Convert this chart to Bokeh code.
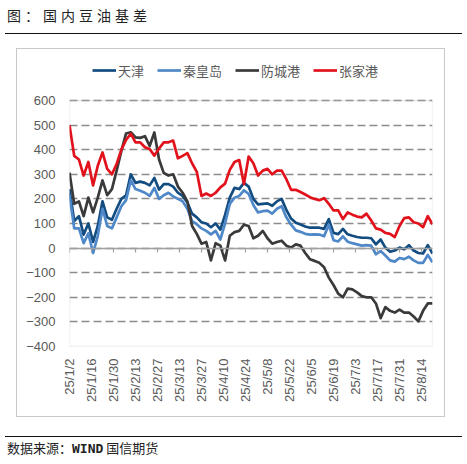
import math
import pandas as pd
from bokeh.plotting import figure
from bokeh.models import (Range1d, FixedTicker, DatetimeAxis, Legend, LegendItem,
                          Div, Spacer, CustomJSTickFormatter, ColumnDataSource,
                          BoxAnnotation)
from bokeh.layouts import column
from bokeh.embed import file_html
from bokeh.resources import INLINE

# ---------------- data ----------------
start_date = "2025-01-02"
end_day = 231
day_offsets = list(range(0, 232, 3))  # days since 2025-01-02

tianjin = [
    240, 110, 130, 55, 100, 25, 90, 190, 125, 115,
    160, 200, 215, 300, 265, 270, 265, 255, 285, 238,
    260, 260, 250, 225, 212, 185, 140, 125, 105, 100,
    85, 100, 75, 135, 205, 245, 240, 265, 250, 200,
    178, 180, 182, 172, 190, 200, 155, 120, 103, 96,
    88, 83, 83, 83, 78, 118, 62, 57, 78, 56,
    50, 45, 42, 42, 40, 15, 35, 2, -15, -10,
    2, -5, 12, -10, -20, -22, 12, -22,
]
qinhuangdao = [
    215, 80, 80, 20, 60, -20, 50, 160, 90, 80,
    125, 170, 195, 275, 240, 233, 225, 212, 245, 200,
    215, 225, 210, 200, 190, 160, 110, 97, 80, 70,
    56, 70, 35, 100, 180, 205, 212, 235, 220, 175,
    145, 150, 152, 140, 160, 170, 125, 95, 72, 66,
    58, 55, 56, 55, 48, 95, 32, 27, 48, 26,
    20, 15, 10, 12, 10, -25, -12, -30, -50, -55,
    -40, -45, -35, -50, -60, -60, -28, -58,
]
fangchenggang = [
    307, 180, 190, 130, 205, 145, 205, 275, 215, 240,
    315, 395, 466, 471, 450, 448, 455, 415, 470, 360,
    305, 295, 300, 250, 225, 190, 90, 58, 18, 25,
    -50, 20, 10, -50, 50, 65, 70, 95, 90, 40,
    50, 70, 40, 18, 25, 30, 10, 2, 15, 10,
    -20, -45, -52, -60, -78, -120, -150, -185, -200, -165,
    -168, -180, -195, -200, -200, -225, -285, -240, -255, -262,
    -250, -262, -262, -278, -298, -255, -225, -225,
]
zhangjiagang = [
    500, 375, 360, 295, 350, 255, 335, 389, 322, 300,
    342, 400, 440, 465, 430, 430, 410, 403, 376, 405,
    430, 430, 437, 365, 375, 386, 345, 310, 212, 222,
    212, 225, 247, 262, 318, 350, 358, 260, 372, 345,
    295, 315, 322, 300, 315, 315, 280, 237, 237, 228,
    218, 207, 200, 195, 203, 180, 153, 153, 118, 145,
    136, 128, 125, 140, 112, 80, 75, 62, 58, 45,
    90, 122, 125, 105, 100, 85, 130, 97,
]

series_names = ["天津", "秦皇岛", "防城港", "张家港"]
series_colors = ["#134C80", "#4F88C8", "#3A3A3A", "#E2121C"]

x_tick_labels = ["25/1/2", "25/1/16", "25/1/30", "25/2/13", "25/2/27", "25/3/13",
                 "25/3/27", "25/4/10", "25/4/24", "25/5/8", "25/5/22", "25/6/5",
                 "25/6/19", "25/7/3", "25/7/17", "25/7/31", "25/8/14"]
y_ticks = [-400, -300, -200, -100, 0, 100, 200, 300, 400, 500, 600]
y_tick_labels = ["−400", "−300", "−200", "−100", "0", "100", "200", "300", "400", "500", "600"]
y_min, y_max = -400, 600

title_text = "图：国内豆油基差"
source_text_cn1 = "数据来源："
source_text_en = "WIND"
source_text_cn2 = "国信期货"

# ---------------- build ----------------
t0 = pd.Timestamp(start_date)
dates = [t0 + pd.Timedelta(days=d) for d in day_offsets]
src = ColumnDataSource(dict(date=dates, tj=tianjin, qhd=qinhuangdao,
                            fcg=fangchenggang, zjg=zhangjiagang))

def to_ms(ts):
    return (ts - pd.Timestamp("1970-01-01")) / pd.Timedelta(milliseconds=1)

tick_dates = [pd.to_datetime("20" + s, format="%Y/%m/%d") for s in x_tick_labels]
tick_ms = [float(to_ms(t)) for t in tick_dates]

x_start = to_ms(t0)
x_end = to_ms(t0 + pd.Timedelta(days=end_day))

FONT = "Liberation Sans"
GREY_TXT = "#595959"

# frame: 290 px tall; plot area (-400..600) occupies its lower 246 px, legend sits above
FRAME_H = 290
PLOT_H = 246
y_top = y_min + FRAME_H * (y_max - y_min) / PLOT_H

# figure spans page x 8..453, y 40..425; the grey chart box is drawn 8px inside it
p = figure(width=445, height=385, x_axis_type="datetime",
           output_backend="svg", toolbar_location=None,
           x_range=Range1d(x_start, x_end), y_range=Range1d(y_min, y_top),
           min_border_left=61, min_border_right=21,
           min_border_top=16, min_border_bottom=79,
           margin=(0, 0, 0, 8),
           styles={"background-color": "#ffffff",
                   "box-shadow": "inset 0 0 0 8px #ffffff, inset 0 0 0 9px #c8c8c8"})
p.background_fill_color = "white"
p.border_fill_alpha = 0
p.outline_line_color = None

# y axis
p.yaxis.ticker = FixedTicker(ticks=y_ticks)
p.yaxis.major_label_overrides = {v: l for v, l in zip(y_ticks, y_tick_labels)}
p.yaxis.axis_line_color = None
p.yaxis.major_tick_line_color = None
p.yaxis.minor_tick_line_color = None
p.yaxis.major_label_text_font = FONT
p.yaxis.major_label_text_font_size = "13px"
p.yaxis.major_label_text_color = GREY_TXT
p.yaxis.major_label_standoff = 8

# grid
p.xgrid.visible = False
p.ygrid.ticker = FixedTicker(ticks=y_ticks)
p.ygrid.grid_line_color = "#8c8c8c"
p.ygrid.grid_line_width = 1.3
p.ygrid.grid_line_dash = "8 4"

# plot-area border
p.add_layout(BoxAnnotation(left=x_start, right=x_end, bottom=y_min, top=y_max,
                           fill_alpha=0, line_color="#b0b0b0", line_width=1.3,
                           level="underlay"))

# main x axis (labels at bottom)
p.xaxis.ticker = FixedTicker(ticks=tick_ms)
p.xaxis.major_label_overrides = {m: l for m, l in zip(tick_ms, x_tick_labels)}
p.xaxis.major_label_orientation = math.pi / 2
p.xaxis.axis_line_color = None
p.xaxis.major_tick_line_color = None
p.xaxis.minor_tick_line_color = None
p.xaxis.major_label_text_font = FONT
p.xaxis.major_label_text_font_size = "13px"
p.xaxis.major_label_text_color = GREY_TXT
p.xaxis.major_label_standoff = 6

# axis line crossing at zero with tick marks
zero_axis = DatetimeAxis(fixed_location=0, ticker=FixedTicker(ticks=tick_ms),
                         formatter=CustomJSTickFormatter(code="return ''"),
                         axis_line_color="#a0a0a0", axis_line_width=1.3,
                         major_tick_out=4, major_tick_in=0,
                         major_tick_line_color="#a0a0a0", major_tick_line_width=1.2,
                         minor_tick_line_color=None, major_label_standoff=0)
p.add_layout(zero_axis, "below")

renderers = []
for col, color in zip(["tj", "qhd", "fcg", "zjg"], series_colors):
    r = p.line("date", col, source=src, line_color=color, line_width=2.7,
               line_join="round")
    renderers.append(r)

legend = Legend(items=[LegendItem(label=n, renderers=[r]) for n, r in zip(series_names, renderers)],
                orientation="horizontal", location=(23, 266),
                padding=0, margin=0, spacing=13, glyph_width=24, glyph_height=20,
                label_standoff=2, label_text_font="Noto Sans CJK SC",
                label_text_font_size="13px", label_text_color=GREY_TXT,
                background_fill_alpha=0, border_line_color=None)
p.add_layout(legend)

title_div = Div(
    text=('<div style="box-sizing:border-box;margin-left:5px;width:457px;height:34px;'
          'padding:8px 0 0 2px;border-bottom:1.5px solid #111;'
          'font-family:\'Noto Sans CJK SC\';font-size:14px;letter-spacing:4px;'
          'line-height:14px;color:#222;white-space:nowrap;">' + title_text + '</div>'),
    width=467, height=34, margin=0)
gap1 = Spacer(width=467, height=6, margin=0)
rule_div = Div(text=('<div style="box-sizing:border-box;margin-left:5px;width:457px;height:7px;'
                     'border-bottom:1.5px solid #111;"></div>'),
               width=467, height=7, margin=0)
footer_div = Div(
    text=('<div style="margin-top:9px;padding-left:7px;font-family:\'Noto Sans CJK SC\';font-size:13px;'
          'line-height:14px;color:#222;white-space:nowrap;">' + source_text_cn1 +
          '<span style="font-family:\'DejaVu Sans Mono\';font-weight:bold;">' + source_text_en +
          '</span> ' + source_text_cn2 + '</div>'),
    width=467, height=24, margin=0)

layout = column(title_div, gap1, p, rule_div, footer_div, spacing=0)

open("out.html", "w").write(file_html(layout, INLINE))
